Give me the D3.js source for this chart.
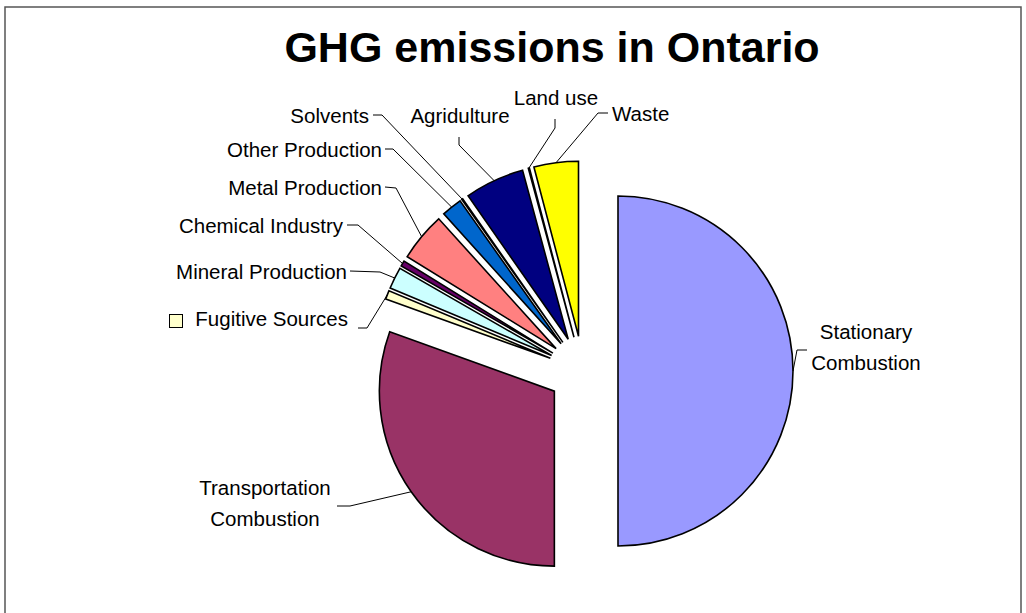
<!DOCTYPE html>
<html>
<head>
<meta charset="utf-8">
<script src="https://cdn.jsdelivr.net/npm/d3@7"></script>
<style>
  html, body { margin: 0; padding: 0; background: #fff; }
  svg { display: block; }
  text { font-family: "Liberation Sans", Arial, sans-serif; fill: #000; }
</style>
</head>
<body>
<script>
// Ontario GHG emissions by source (share of total, %)
const categories = [
  "Stationary Combustion", "Transportation Combustion", "Fugitive Sources",
  "Mineral Production", "Chemical Industry", "Metal Production",
  "Other Production", "Solvents", "Agridulture", "Land use", "Waste"
];
const values = [50.0, 30.5, 0.8, 2.0, 0.5, 4.5, 1.9, 0.1, 5.5, 0.1, 4.1];
const colors = [
  "#9999FF", "#993366", "#FFFFCC", "#CCFFFF", "#660066", "#FF8080",
  "#0066CC", "#CCCCFF", "#000080", "#FF00FF", "#FFFF00"
];

// Label text lines per slice
const labelLines = [
  ["Stationary", "Combustion"], ["Transportation", "Combustion"], ["Fugitive Sources"],
  ["Mineral Production"], ["Chemical Industry"], ["Metal Production"],
  ["Other Production"], ["Solvents"], ["Agridulture"], ["Land use"], ["Waste"]
];

// Label placement: text anchor point and leader-line elbow/end points
const labelLayout = [
  { x: 866, y: 331, anchor: "middle", leader: [[797, 350], [807, 350]] },
  { x: 265, y: 487, anchor: "middle", leader: [[350, 506], [337, 506]] },
  { x: 348, y: 318, anchor: "end",    leader: [[367, 328], [358, 328]], key: true },
  { x: 347, y: 271, anchor: "end",    leader: [[380, 272], [350, 271]] },
  { x: 343, y: 225, anchor: "end",    leader: [[358, 225], [347, 225]] },
  { x: 382, y: 187, anchor: "end",    leader: [[396, 188], [385, 187]] },
  { x: 382, y: 149, anchor: "end",    leader: [[393, 149], [385, 149]] },
  { x: 369, y: 115, anchor: "end",    leader: [[382, 115], [373, 115]] },
  { x: 460, y: 115, anchor: "middle", leader: [[459, 145], [459, 137]] },
  { x: 556, y: 97,  anchor: "middle", leader: [[555, 128], [555, 119]] },
  { x: 612, y: 113, anchor: "start",  leader: [[598, 113], [608, 113]] }
];

const W = 1026, H = 613;
const cx = 583, cy = 371, radius = 175, explode = 35;
const fontSize = 20.5, lineGap = 31;

const svg = d3.select("body").append("svg").attr("width", W).attr("height", H);

// chart frame
svg.append("rect")
  .attr("x", 5).attr("y", 7).attr("width", 1016).attr("height", 640)
  .attr("fill", "#fff").attr("stroke", "#555").attr("stroke-width", 1.5);

svg.append("text")
  .attr("x", 552).attr("y", 47)
  .attr("text-anchor", "middle").attr("dominant-baseline", "central")
  .style("font-size", "43px").style("font-weight", "bold")
  .text("GHG emissions in Ontario");

const rows = categories.map((c, i) => ({ name: c, value: values[i], color: colors[i], i }));
const pie = d3.pie().sort(null).value(d => d.value).startAngle(0).endAngle(2 * Math.PI);
const arcs = pie(rows);
const arc = d3.arc().innerRadius(0).outerRadius(radius);

const offset = d => {
  const m = (d.startAngle + d.endAngle) / 2;
  return [Math.sin(m) * explode, -Math.cos(m) * explode];
};

const g = svg.append("g").attr("transform", `translate(${cx},${cy})`);

g.selectAll("path.slice").data(arcs).join("path")
  .attr("class", "slice")
  .attr("transform", d => { const o = offset(d); return `translate(${o[0]},${o[1]})`; })
  .attr("d", arc)
  .attr("fill", d => d.data.color)
  .attr("stroke", "#000").attr("stroke-width", 1.6).attr("stroke-linejoin", "miter");

// leader lines: from the slice's outer arc midpoint to the label
const line = d3.line();
svg.selectAll("path.leader").data(arcs).join("path")
  .attr("class", "leader")
  .attr("d", d => {
    const m = (d.startAngle + d.endAngle) / 2;
    const o = offset(d);
    const start = [cx + o[0] + Math.sin(m) * radius, cy + o[1] - Math.cos(m) * radius];
    return line([start, ...labelLayout[d.index].leader]);
  })
  .attr("fill", "none").attr("stroke", "#000").attr("stroke-width", 1);

const labels = svg.selectAll("text.label").data(arcs).join("text")
  .attr("class", "label")
  .attr("text-anchor", d => labelLayout[d.index].anchor)
  .attr("dominant-baseline", "central")
  .style("font-size", fontSize + "px");

labels.selectAll("tspan").data(d => labelLines[d.index].map(t => ({ t, L: labelLayout[d.index] })))
  .join("tspan")
  .attr("x", p => p.L.x)
  .attr("y", (p, k) => p.L.y + k * lineGap)
  .text(p => p.t);

// legend key beside labels that carry one
arcs.filter(d => labelLayout[d.index].key).forEach(d => {
  svg.append("rect")
    .attr("x", 169.5).attr("y", 314.5).attr("width", 13).attr("height", 13)
    .attr("fill", d.data.color).attr("stroke", "#000").attr("stroke-width", 1);
});
</script>
</body>
</html>
